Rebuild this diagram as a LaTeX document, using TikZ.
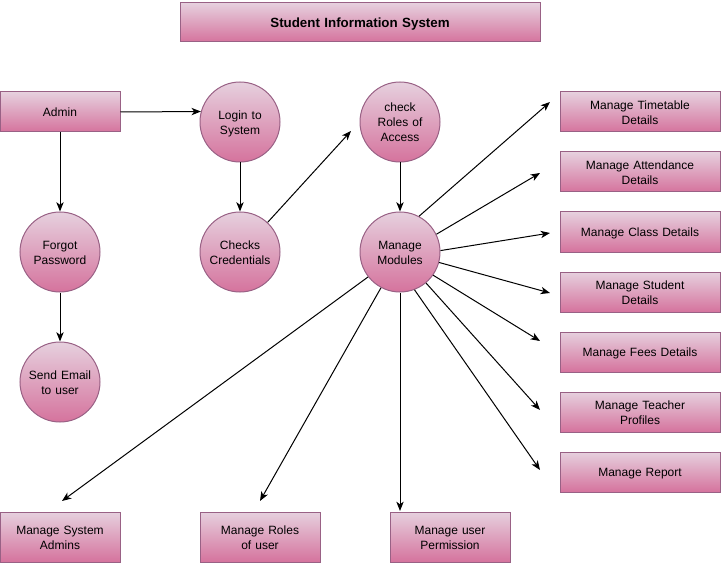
\documentclass[tikz,border=0pt]{standalone}
\usepackage{fontspec}
\setmainfont{Liberation Sans}
\usepackage{tikz}
\usetikzlibrary{arrows.meta}
\usepackage{xcolor}
\definecolor{pinktop}{HTML}{E6D0DE}
\definecolor{pinkbot}{HTML}{D5739D}
\definecolor{pinkline}{HTML}{996185}

\begin{document}
\begin{tikzpicture}[x=0.75pt,y=-0.75pt,
		font=\fontsize{9}{11.25}\selectfont,
		pinkfill/.style={top color=pinktop,bottom color=pinkbot,draw=pinkline,line width=0.75pt,align=center,inner sep=0pt,
			execute at begin node={\rule{0pt}{9pt}},execute at end node={\rule[-1.5pt]{0pt}{0pt}}},
		procbox/.style={pinkfill,rectangle,text width=80pt,minimum width=90pt,minimum height=30pt},
		widebox/.style={pinkfill,rectangle,text width=110pt,minimum width=120pt,minimum height=30pt},
		lowbox/.style={pinkfill,rectangle,text width=80pt,minimum width=90pt,minimum height=37.5pt},
		proc/.style={pinkfill,circle,text width=48pt,minimum size=60pt},
		flow/.style={-{Stealth[length=7pt,width=5.5pt,inset=2pt]},line width=0.75pt}]
		\useasboundingbox (0,0) rectangle (721,563);
		% TITLE
		\node [pinkfill,text width=260pt,minimum width=270pt,minimum height=29.25pt,font=\fontsize{10}{12}\selectfont\bfseries] (title) at (360,22.5) {Student Information System};
		% LOGIN PATH
		\node [procbox] (admin) at (60,112) {Admin};
		\node [proc] (login) at (240,122) {Login to\\System};
		\node [proc] (checks) at (240,252) {Checks\\Credentials};
		\node [proc] (forgot) at (60,252) {Forgot\\Password};
		\node [proc] (email) at (60,382) {Send Email\\to user};
		\node [proc] (roles) at (400,122) {check\\Roles of\\Access};
		\node [proc] (modules) at (400,252) {Manage\\Modules};
		% MODULE BOXES
		\node [widebox] (timetable) at (640,112) {Manage Timetable\\Details};
		\node [widebox] (attendance) at (640,172) {Manage Attendance\\Details};
		\node [widebox] (class) at (640,232) {Manage Class Details};
		\node [widebox] (student) at (640,292) {Manage Student\\Details};
		\node [widebox] (fees) at (640,352) {Manage Fees Details};
		\node [widebox] (teacher) at (640,412) {Manage Teacher\\Profiles};
		\node [widebox] (report) at (640,472) {Manage Report};
		\node [lowbox] (sysadmins) at (60,537) {Manage System\\Admins};
		\node [lowbox] (userroles) at (260,537) {Manage Roles\\of user};
		\node [lowbox] (permission) at (450,537) {Manage user\\Permission};
		% FREE ARROW ENDS
		\coordinate (toroles) at (351,131);
		\coordinate (totimetable) at (550,102);
		\coordinate (toattendance) at (540,173);
		\coordinate (toclass) at (550,233);
		\coordinate (tostudent) at (550,293);
		\coordinate (tofees) at (540,341);
		\coordinate (toteacher) at (540,410);
		\coordinate (toreport) at (540,470);
		\coordinate (tosysadmins) at (62,501);
		\coordinate (touserroles) at (260,501);
		\coordinate (topermission) at (400,511);
		% ARROWS
		\draw [flow] (admin.east) -- (login.165.5);
		\draw [flow] (admin) -- (forgot);
		\draw [flow] (forgot) -- (email);
		\draw [flow] (login) -- (checks);
		\draw [flow] (checks.47) -- (toroles);
		\draw [flow] (roles) -- (modules);
		\draw [flow] (modules.62) -- (totimetable);
		\draw [flow] (modules.26) -- (toattendance);
		\draw [flow] (modules.2) -- (toclass);
		\draw [flow] (modules.-15) -- (tostudent);
		\draw [flow] (modules.-35) -- (tofees);
		\draw [flow] (modules.-50) -- (toteacher);
		\draw [flow] (modules.-69) -- (toreport);
		\draw [flow] (modules.-90) -- (topermission);
		\draw [flow] (modules.-118) -- (touserroles);
		\draw [flow] (modules.-142) -- (tosysadmins);
\end{tikzpicture}
\end{document}
